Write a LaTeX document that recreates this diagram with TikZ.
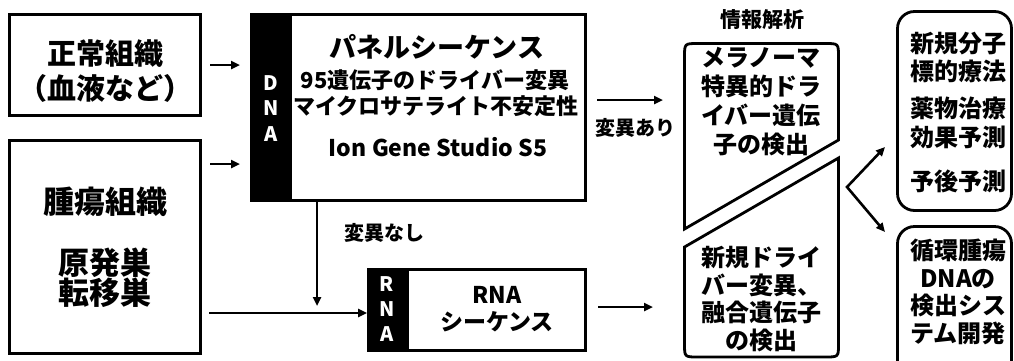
\documentclass[tikz,border=0pt]{standalone}
\usepackage{fontspec}
\setmainfont{Noto Sans CJK JP}
\usetikzlibrary{arrows.meta}
\newcommand\myfs[2]{\fontsize{#1}{#2}\selectfont}
\begin{document}
\begin{tikzpicture}[x=1pt,y=-1pt,
  box/.style={draw, line width=2.8pt, inner sep=0pt},
  arr/.style={-{Triangle[length=9pt,width=8pt]}, line width=2.6pt},
  txt/.style={inner sep=0pt, align=center, font=\bfseries},
  bar/.style={inner sep=0pt, text=white, font=\bfseries\myfs{20}{20}}]
\useasboundingbox (0,0) rectangle (1014,360);
\clip (0,0) rectangle (1014,360);

% left boxes
\node[box, minimum width=191pt, minimum height=101pt] (normal) at (105,65) {};
\node[box, minimum width=191pt, minimum height=213pt] (tumor) at (105,247) {};
\node[txt, font=\bfseries\myfs{29}{35}] (tnormal) at (105,71) {正常組織\\（血液など）};
\node[txt, font=\bfseries\myfs{31}{31}] (ttumor) at (105,202) {腫瘍組織};
\node[txt, font=\bfseries\myfs{31}{30}] (tsite) at (105,278) {原発巣\\転移巣};

% DNA box
\fill (251.5,14.5) rectangle (292,200.5);
\node[box, minimum width=334pt, minimum height=186pt] (dna) at (418.5,107.5) {};
\node[bar] (d1) at (271,83) {D};
\node[bar] (d2) at (271,108) {N};
\node[bar] (d3) at (271,134) {A};
\node[txt, font=\bfseries\myfs{27}{27}] (t1) at (437,47) {パネルシーケンス};
\node[txt, font=\bfseries\myfs{22}{22}] (t2) at (435,80) {95遺伝子のドライバー変異};
\node[txt, font=\bfseries\myfs{22}{22}] (t3) at (436,106) {マイクロサテライト不安定性};
\node[txt, font=\bfseries\myfs{23}{23}] (t4) at (438,147) {Ion Gene Studio S5};

% RNA box
\fill (368.5,269.5) rectangle (409,350.5);
\node[box, minimum width=217pt, minimum height=81pt] (rna) at (477,310) {};
\node[bar] (r1) at (387,284) {R};
\node[bar] (r2) at (387,309) {N};
\node[bar] (r3) at (387,334) {A};
\node[txt, font=\bfseries\myfs{23}{27}] (trna) at (497,309) {RNA\\シーケンス};

% arrows left
\draw[arr] (210,65) -- (240,65);
\draw[arr] (210,164) -- (240,164);
\coordinate (hstart) at (209,313);
\draw[arr] (hstart) -- (rna.west |- hstart);
\coordinate (vend) at (317,306);
\draw[arr] (317,200.5) -- (vend);
\node[txt, font=\bfseries\myfs{20}{20}] (nomut) at (384,233) {変異なし};

% arrows to info
\coordinate (m1) at (597,100);
\coordinate (m2) at (663,100);
\draw[arr] (m1) -- (m2);
\node[txt, font=\bfseries\myfs{20}{20}] (mut) at (635,128) {変異あり};
\coordinate (n1) at (598,307);
\coordinate (n2) at (653,307);
\draw[arr] (n1) -- (n2);

% info shapes
\node[txt, font=\bfseries\myfs{21}{21}] (info) at (762,20) {情報解析};
\draw[line width=2.8pt] (684.5,229) -- (684.5,57) .. controls (684.5,43.5) .. (698,43.5)
  -- (825,43.5) .. controls (838.5,43.5) .. (838.5,57) -- (838.5,140) -- cycle;
\draw[line width=2.8pt] (684.5,247) -- (838.5,158) -- (838.5,344) .. controls (838.5,357) .. (825,357)
  -- (698,357) .. controls (684.5,357) .. (684.5,344) -- cycle;
\node[txt, font=\bfseries\myfs{24}{29}] (tup) at (761,102) {メラノーマ\\特異的ドラ\\イバー遺伝\\子の検出};
\node[txt, font=\bfseries\myfs{24}{27.7}] (tlow) at (761,299) {新規ドライ\\バー変異、\\融合遺伝子\\の検出};

% fork
\coordinate (fk) at (847,187);
\coordinate (fu) at (885,147);
\coordinate (fd) at (885,232);
\draw[arr, {Triangle[length=9pt,width=8pt]}-{Triangle[length=9pt,width=8pt]}, line join=miter] (fu) -- (fk) -- (fd);

% right boxes
\node[box, rounded corners=17pt, minimum width=114pt, minimum height=199pt] (res1) at (954.5,111) {};
\node[box, rounded corners=17pt, minimum width=114pt, minimum height=160pt] (res2) at (954.5,306.5) {};
\node[txt, font=\bfseries\myfs{24}{28}] (r1a) at (958,57) {新規分子\\標的療法};
\node[txt, font=\bfseries\myfs{24}{29}] (r1b) at (958,123) {薬物治療\\効果予測};
\node[txt, font=\bfseries\myfs{24}{24}] (r1c) at (958,181) {予後予測};
\node[txt, font=\bfseries\myfs{24}{27.5}] (r2a) at (958,292) {循環腫瘍\\DNAの\\検出シス\\テム開発};
\end{tikzpicture}
\end{document}
